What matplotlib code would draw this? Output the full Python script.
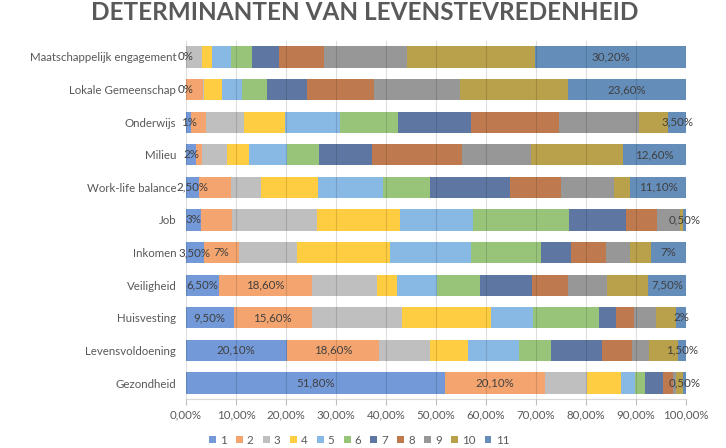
import matplotlib
matplotlib.use('Agg')
import matplotlib.pyplot as plt
import numpy as np

# categories top to bottom
categories = ['Maatschappelijk engagement', 'Lokale Gemeenschap', 'Onderwijs', 'Milieu',
              'Work-life balance', 'Job', 'Inkomen', 'Veiligheid', 'Huisvesting',
              'Levensvoldoening', 'Gezondheid']

s1 = [0, 0, 1, 2, 2.5, 3, 3.5, 6.5, 9.5, 20.1, 51.8]
s2 = [0, 3.3, 3.0, 1.1, 6.5, 6.1, 7, 18.6, 15.6, 18.6, 20.1]
s3 = [3.1, 0.3, 7.6, 5.0, 6.0, 17.0, 11.7, 13.1, 18.2, 10.1, 8.4]
s4 = [2.1, 3.6, 8.1, 4.5, 11.3, 16.7, 18.6, 4.1, 17.7, 7.7, 6.7]
s5 = [3.8, 3.9, 11.1, 7.5, 13.1, 14.7, 16.2, 8.0, 8.5, 10.2, 2.8]
s6 = [4.1, 5.0, 11.6, 6.5, 9.5, 19.1, 14.1, 8.5, 13.2, 6.4, 2.1]
s7 = [5.5, 8.0, 14.6, 10.6, 15.9, 11.5, 5.9, 10.5, 3.3, 10.1, 3.5]
s8 = [9.0, 13.6, 17.6, 18.1, 10.3, 6.2, 7.0, 7.1, 3.6, 6.1, 2.0]
s9 = [16.7, 17.1, 16.1, 13.7, 10.5, 4.5, 4.9, 7.9, 4.4, 3.4, 0.6]
s10 = [25.5, 21.6, 5.8, 18.4, 3.3, 0.7, 4.1, 8.2, 4.0, 5.8, 1.5]
s11 = [30.2, 23.6, 3.5, 12.6, 11.1, 0.5, 7, 7.5, 2.0, 1.5, 0.5]
series = [s1, s2, s3, s4, s5, s6, s7, s8, s9, s10, s11]
series_names = [str(i) for i in range(1, 12)]

# which rows carry a data label for series 2
label_s2 = [False, False, False, False, False, False, True, True, True, True, True]

colors = ['#7399D8', '#F4A46E', '#BFBFBF', '#FFCD41', '#88B8E4', '#98C47A',
          '#5E77A2', '#BE7A4E', '#979797', '#B9A04B', '#648DBA']


def fmt(v):
    if abs(v - round(v)) < 1e-9:
        return '%d%%' % round(v)
    return ('%.2f%%' % v).replace('.', ',')


plt.rcParams['font.family'] = ['Lato', 'DejaVu Sans']

fig = plt.figure(figsize=(7.26, 4.48), dpi=100)
ax = fig.add_axes([0.2562, 0.1087, 0.6887, 0.8005])

y = np.arange(len(categories))
left = np.zeros(len(categories))
bars = []
for i, s in enumerate(series):
    vals = np.array(s) / 100.0
    ax.barh(y, vals, left=left, height=0.65, color=colors[i], label=series_names[i], zorder=2)
    bars.append((vals, left.copy()))
    left = left + vals

lab_color = '#404040'
fs = 8.3
for k in range(len(categories)):
    v, l = bars[0][0][k], bars[0][1][k]
    ax.text(l + v / 2, y[k], fmt(s1[k]), ha='center', va='center', fontsize=fs, color=lab_color, zorder=4)
    if label_s2[k]:
        v, l = bars[1][0][k], bars[1][1][k]
        ax.text(l + v / 2, y[k], fmt(s2[k]), ha='center', va='center', fontsize=fs, color=lab_color, zorder=4)
    v, l = bars[10][0][k], bars[10][1][k]
    ax.text(l + v / 2, y[k], fmt(s11[k]), ha='center', va='center', fontsize=fs, color=lab_color, zorder=4)

ax.set_xlim(0, 1)
ax.set_ylim(len(categories) - 0.5, -0.5)
ax.set_yticks(y)
ax.set_yticklabels(categories, fontsize=fs, color='#595959')
xt = np.arange(0, 1.01, 0.1)
ax.set_xticks(xt)
ax.set_xticklabels([('%.2f%%' % (t * 100)).replace('.', ',') for t in xt], fontsize=fs, color='#595959')
ax.tick_params(axis='y', length=0, pad=7)
ax.tick_params(axis='x', length=4, color='#BFBFBF', pad=3)
for sp in ['top', 'right', 'left']:
    ax.spines[sp].set_visible(False)
ax.spines['bottom'].set_color('#D9D9D9')
ax.xaxis.grid(True, color='black', alpha=0.13, linewidth=0.8, zorder=3)
ax.set_axisbelow(False)

fig.text(0.503, 1 - 20 / 448, 'DETERMINANTEN VAN LEVENSTEVREDENHEID', ha='center', va='baseline',
         fontsize=17.5, fontweight='bold', color='#595959')

fig.legend(loc='center', bbox_to_anchor=(359 / 726, 1 - 440 / 448), ncol=11, frameon=False,
           fontsize=fs, handlelength=0.6, handleheight=0.6, columnspacing=0.8, handletextpad=0.35,
           labelcolor='#595959', borderaxespad=0, borderpad=0)

fig.savefig('out.png', dpi=100)
